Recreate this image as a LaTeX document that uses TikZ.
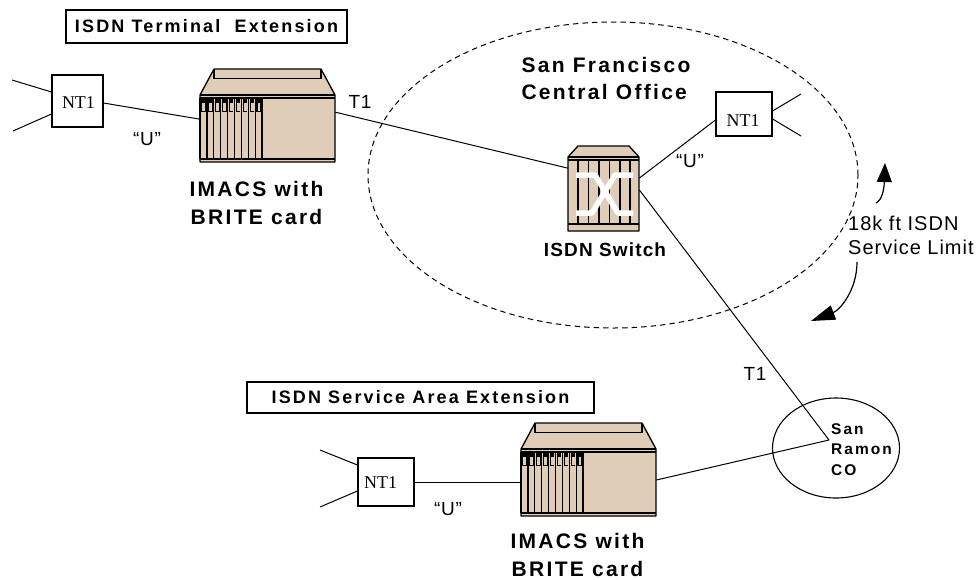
\documentclass[tikz,border=0pt]{standalone}
\usepackage{fontspec}
\setmainfont{Liberation Serif}
\setsansfont{Liberation Sans}
\usetikzlibrary{arrows.meta,shapes.geometric}
\definecolor{unittan}{HTML}{DFCDB8}
\tikzset{
  x=1pt,y=-1pt,
  wire/.style={draw=black,line width=1pt},
  ntbox/.style={draw=black,line width=1.1pt,fill=white,inner sep=0pt},
  nttext/.style={inner sep=0pt,font=\rmfamily\fontsize{18}{18}\selectfont},
  titlebox/.style={draw=black,line width=1.1pt,fill=white,inner sep=0pt,font=\sffamily\bfseries\fontsize{18}{18}\selectfont\addfontfeature{LetterSpace=12}},
  boldlab/.style={inner sep=0pt,font=\sffamily\bfseries\fontsize{21}{27.5}\selectfont\addfontfeature{LetterSpace=11}},
  plainlab/.style={inner sep=0pt,font=\sffamily\fontsize{19}{24}\selectfont\addfontfeature{LetterSpace=4}},
  limitlab/.style={inner sep=0pt,align=left,font=\sffamily\fontsize{20}{24}\selectfont\addfontfeature{LetterSpace=5}},
  co/.style={inner sep=0pt,align=left,font=\sffamily\bfseries\fontsize{15.5}{20.5}\selectfont\addfontfeature{LetterSpace=13}},
  unitbody/.style={draw=black,line width=1.3pt,fill=unittan,line join=round},
  unitline/.style={draw=black,line width=1.2pt},
  bigarrow/.style={draw=black,line width=1.2pt,-{Triangle[length=19pt,width=15pt]}},
  bigarrowlow/.style={draw=black,line width=1.2pt,-{Triangle[length=24pt,width=15pt]}}
}
\newcommand{\imacs}[3]{%
  \node[minimum width=135pt,minimum height=93pt,inner sep=0pt,anchor=north west] (#3) at (#1,#2) {};
  \begin{scope}[shift={(#1,#2)}]
    \path[unitbody] (0,26) -- (14,0) -- (121,0) -- (135,26) -- (135,93) -- (0,93) -- cycle;
    \draw[unitline] (14,0) -- (14,9.5) -- (121,9.5) -- (121,0);
    \draw[unitline] (0,26) -- (135,26) (0,29) -- (135,29) (0,90) -- (135,90);
    \foreach \i in {0,...,8} {
      \draw[unitline] ({6.9*\i},29) -- ({6.9*\i},90);
      \fill[black] ({1.2+6.9*\i},30) rectangle ({5.8+6.9*\i},43);
      \fill[unittan] ({2.4+6.9*\i},34) rectangle ({5.2+6.9*\i},41.5);
    }
    \draw[unitline] (62,29) -- (62,90);
  \end{scope}}
\begin{document}
\begin{tikzpicture}
\useasboundingbox (0,0) rectangle (976,579);
\fill[white] (0,0) rectangle (976,579);

% areas
\node[ellipse,draw=black,line width=1pt,dash pattern=on 5.5pt off 4pt,minimum width=490pt,minimum height=306pt,inner sep=0pt] (sf) at (613,175) {};
\node[ellipse,draw=black,line width=1.1pt,minimum width=127pt,minimum height=100pt,inner sep=0pt] (sr) at (836,448) {};

% free ends
\coordinate (a1) at (12,80);
\coordinate (a2) at (13,131);
\coordinate (b1) at (801,94);
\coordinate (b2) at (801,136);
\coordinate (c1) at (320,450);
\coordinate (c2) at (320,507);
\coordinate (hub) at (829,440);

% NT1 boxes
\node[ntbox,minimum width=51pt,minimum height=52pt] (nta) at (77.5,101) {};
\node[nttext] (ntat) at (78.5,103) {NT1};
\node[ntbox,minimum width=56pt,minimum height=44pt] (ntb) at (744,114) {};
\node[nttext] (ntbt) at (743,121) {NT1};
\node[ntbox,minimum width=56pt,minimum height=48pt] (ntc) at (386,482) {};
\node[nttext] (ntct) at (380.5,483) {NT1};

% units
\imacs{200}{69}{ima}
\imacs{521}{423}{imb}
\node[minimum width=71pt,minimum height=85pt,inner sep=0pt,anchor=north west] (sw) at (568,146) {};
\begin{scope}[shift={(568,146)}]
  \path[unitbody] (0,11) -- (10,0) -- (61,0) -- (71,11) -- (71,85) -- (0,85) -- cycle;
  \draw[unitline] (0,11) -- (71,11) (0,14) -- (71,14) (0,78) -- (71,78);
  \foreach \x in {10,20.5,31,41.5,52,62} \draw[unitline] (\x,14) -- (\x,78);
  \draw[white,line width=5.5pt,line join=round] (8,29) -- (27,29) -- (50,67) -- (65,67);
  \draw[white,line width=5.5pt,line join=round] (65,29) -- (47,29) -- (24,67) -- (8,67);
\end{scope}

% connectors
\draw[wire] (a1) -- ([yshift=9pt]nta.west);
\draw[wire] (a2) -- ([yshift=-13pt]nta.west);
\draw[wire] ([yshift=-2pt]nta.east) -- ([yshift=-3.5pt]ima.west);
\draw[wire] ([yshift=3.5pt]ima.east) -- ([yshift=20.5pt]sw.west);
\draw[wire] (sw.east |- 0,178) -- ([yshift=-6pt]ntb.west);
\draw[wire] (sw.east |- 0,190) -- (hub);
\draw[wire] ([yshift=3pt]ntb.east) -- (b1);
\draw[wire] ([yshift=-5pt]ntb.east) -- (b2);
\draw[wire] (c1) -- ([yshift=17pt]ntc.west);
\draw[wire] (c2) -- ([yshift=-9pt]ntc.west);
\draw[wire] (ntc.east) -- (ntc.east -| imb.west);
\draw[wire] (imb.east |- 0,480) -- (hub);

% title boxes
\node[titlebox,minimum width=281pt,minimum height=33pt] (t1) at (206.5,26.5) {ISDN Terminal\ \ Extension};
\node[titlebox,minimum width=347pt,minimum height=31pt] (t2) at (420.5,397.5) {ISDN Service Area Extension};

% labels
\node[boldlab,align=left] (sfl) at (606,78.5) {San Francisco\\Central Office};
\node[boldlab,align=center] (il1) at (256.5,203) {IMACS with\\BRITE card};
\node[boldlab,align=center] (il2) at (577.5,555) {IMACS with\\BRITE card};
\node[boldlab,font=\sffamily\bfseries\fontsize{19}{20}\selectfont\addfontfeature{LetterSpace=6}] (swl) at (605,250) {ISDN Switch};
\node[plainlab] (t1a) at (360,102) {T1};
\node[plainlab] (t1b) at (755,374) {T1};
\node[plainlab] (ua) at (147,139) {“U”};
\node[plainlab] (ub) at (690,161) {“U”};
\node[plainlab] (uc) at (448,509) {“U”};
\node[limitlab,anchor=west] (lim) at (848,235) {18k ft ISDN\\Service Limit};
\node[co,anchor=west] (srl) at (831,449.5) {San\\Ramon\\CO};

% service limit arrows
\coordinate (ar1) at (876,203);
\coordinate (ar2) at (885,163);
\coordinate (ar3) at (857,262);
\coordinate (ar4) at (811,321);
\draw[bigarrow] (ar1) .. controls (882,200) and (884,190) .. (ar2);
\draw[bigarrowlow] (ar3) .. controls (857,290) and (840,310) .. (ar4);
\end{tikzpicture}
\end{document}
